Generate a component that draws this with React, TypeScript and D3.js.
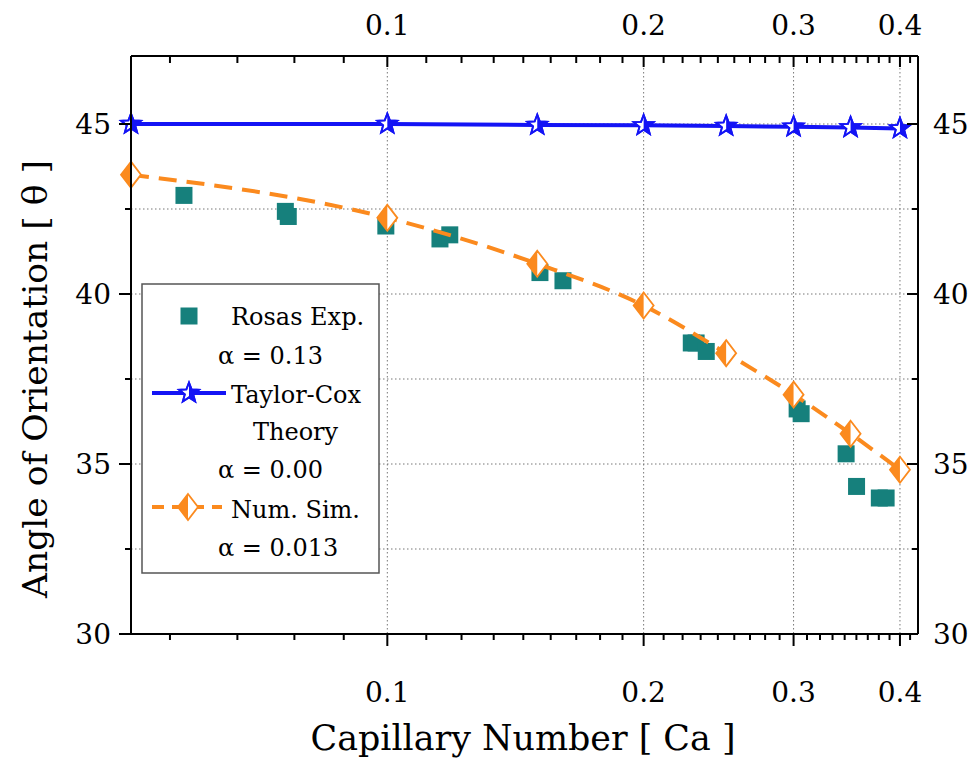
import React from "react";
import * as d3 from "d3";

const rosasCa = [0.0577, 0.0759, 0.0765, 0.0996, 0.1153, 0.1184, 0.1511, 0.1608, 0.2275, 0.2305, 0.2369, 0.3029, 0.3062, 0.3458, 0.3557, 0.3783, 0.3853];
const rosasAngle = [42.9, 42.43, 42.28, 42.0, 41.62, 41.74, 40.63, 40.39, 38.56, 38.56, 38.31, 36.62, 36.48, 35.3, 34.34, 34.0, 34.0];

const taylorCa = [0.05, 0.1, 0.15, 0.2, 0.25, 0.3, 0.35, 0.4];
const taylorAngle = [45.0, 45.0, 44.97, 44.96, 44.94, 44.92, 44.9, 44.87];

const simCa = [0.05, 0.1, 0.15, 0.2, 0.25, 0.3, 0.35, 0.4];
const simAngle = [43.51, 42.24, 40.89, 39.66, 38.26, 37.04, 35.89, 34.83];

const xMajorTicks = [0.1, 0.2, 0.3, 0.4];
const xTickLabels = ["0.1", "0.2", "0.3", "0.4"];
const yMajorTicks = [30, 35, 40, 45];
const yMinorTicks = [32.5, 37.5, 42.5];
const yTickLabels = ["30", "35", "40", "45"];

const legendLabels = ["Rosas Exp.", "α = 0.13", "Taylor-Cox", "Theory", "α = 0.00", "Num. Sim.", "α = 0.013"];

const BLUE = "#1414f5";
const ORANGE = "#fb8a1e";
const TEAL = "#16807c";
const SERIF = "'DejaVu Serif', 'Liberation Serif', serif";

function starPath(r: number) {
  const pts: [number, number][] = [];
  for (let i = 0; i < 10; i++) {
    const rr = i % 2 === 0 ? r : r * 0.42;
    const a = -Math.PI / 2 + (i * Math.PI) / 5;
    pts.push([rr * Math.cos(a), rr * Math.sin(a)]);
  }
  return "M" + pts.map((p) => p.join(",")).join("L") + "Z";
}

function Star({ x, y }: { x: number; y: number }) {
  const d = starPath(10.5);
  return (
    <g transform={`translate(${x},${y})`}>
      <path d={d} fill="white" stroke={BLUE} strokeWidth={1.8} />
      <path d={d} fill={BLUE} clipPath="url(#rightHalf)" />
      <path d={d} fill="none" stroke={BLUE} strokeWidth={1.8} />
    </g>
  );
}

function Diamond({ x, y }: { x: number; y: number }) {
  const w = 10, h = 13;
  return (
    <g transform={`translate(${x},${y})`}>
      <path d={`M0,${-h}L${w},0L0,${h}L${-w},0Z`} fill="white" stroke={ORANGE} strokeWidth={1.8} />
      <path d={`M0,${-h}L0,${h}L${-w},0Z`} fill={ORANGE} />
    </g>
  );
}

export default function App() {
  const W = 974, H = 762;
  const x = d3.scaleLog().domain([0.05, 0.42]).range([131, 918]);
  const y = d3.scaleLinear().domain([30, 47]).range([634, 56]);
  const [x0, x1] = x.range();
  const [y0, y1] = y.range();

  const minorX = d3.range(5, 38).filter((k) => k % 9 !== 0).map((k) => k / 90);

  const taylorLine = d3.line<number>().x((_, i) => x(taylorCa[i])).y((d) => y(d));
  const simLine = d3.line<number>().x((_, i) => x(simCa[i])).y((d) => y(d)).curve(d3.curveMonotoneX);

  const gridY = [...yMinorTicks, ...yMajorTicks].filter((v) => v > 30);

  const sq = 17;

  return (
    <svg width={W} height={H} style={{ position: "absolute", left: 0, top: 0, background: "white" }}>
      <defs>
        <clipPath id="rightHalf">
          <rect x={0} y={-20} width={20} height={40} />
        </clipPath>
      </defs>
      <rect width={W} height={H} fill="white" />

      {/* grid */}
      <g stroke="#777" strokeWidth={1} strokeDasharray="1.5 2.5">
        {xMajorTicks.map((t) => (
          <line key={"gx" + t} x1={x(t)} x2={x(t)} y1={y1} y2={y0} />
        ))}
        {gridY.map((t) => (
          <line key={"gy" + t} x1={x0} x2={x1} y1={y(t)} y2={y(t)} />
        ))}
      </g>

      {/* Rosas squares */}
      <g fill={TEAL}>
        {rosasCa.map((c, i) => (
          <rect key={"r" + i} x={x(c) - sq / 2} y={y(rosasAngle[i]) - sq / 2} width={sq} height={sq} />
        ))}
      </g>

      {/* Taylor-Cox */}
      <path d={taylorLine(taylorAngle) || ""} fill="none" stroke={BLUE} strokeWidth={4} />
      {taylorCa.map((c, i) => (
        <Star key={"s" + i} x={x(c)} y={y(taylorAngle[i])} />
      ))}

      {/* Num. Sim. */}
      <path d={simLine(simAngle) || ""} fill="none" stroke={ORANGE} strokeWidth={4} strokeDasharray="18 10" />
      {simCa.map((c, i) => (
        <Diamond key={"d" + i} x={x(c)} y={y(simAngle[i])} />
      ))}

      {/* axes frame */}
      <g stroke="black" strokeWidth={2} fill="none">
        <line x1={x0} x2={x1} y1={y0} y2={y0} />
        <line x1={x0} x2={x1} y1={y1} y2={y1} />
        <line x1={x0} x2={x0} y1={y1} y2={y0} />
        <line x1={x1} x2={x1} y1={y1} y2={y0} />
        {xMajorTicks.map((t) => (
          <g key={"xm" + t}>
            <line x1={x(t)} x2={x(t)} y1={y0} y2={y0 + 12} />
            <line x1={x(t)} x2={x(t)} y1={y1} y2={y1 + 11} />
          </g>
        ))}
        {minorX.map((t) => (
          <g key={"xn" + t}>
            <line x1={x(t)} x2={x(t)} y1={y0} y2={y0 + 6} />
            <line x1={x(t)} x2={x(t)} y1={y1} y2={y1 + 7} />
          </g>
        ))}
        {yMajorTicks.map((t) => (
          <g key={"ym" + t}>
            <line x1={x0 - 12} x2={x0} y1={y(t)} y2={y(t)} />
            <line x1={x1 - 11} x2={x1} y1={y(t)} y2={y(t)} />
          </g>
        ))}
        {yMinorTicks.map((t) => (
          <g key={"yn" + t}>
            <line x1={x0 - 6} x2={x0} y1={y(t)} y2={y(t)} />
            <line x1={x1 - 6} x2={x1} y1={y(t)} y2={y(t)} />
          </g>
        ))}
      </g>

      {/* tick labels */}
      <g fontFamily={SERIF} fontSize={28} fill="black">
        {xMajorTicks.map((t, i) => (
          <g key={"xl" + t}>
            <text x={x(t)} y={y0 + 68} textAnchor="middle">{xTickLabels[i]}</text>
            <text x={x(t)} y={35} textAnchor="middle">{xTickLabels[i]}</text>
          </g>
        ))}
        {yMajorTicks.map((t, i) => (
          <g key={"yl" + t}>
            <text x={x0 - 20} y={y(t) + 10} textAnchor="end">{yTickLabels[i]}</text>
            <text x={x1 + 15} y={y(t) + 10} textAnchor="start">{yTickLabels[i]}</text>
          </g>
        ))}
      </g>

      {/* axis titles */}
      <text x={523} y={750} textAnchor="middle" fontFamily={SERIF} fontSize={36} textLength={425} lengthAdjust="spacingAndGlyphs">
        Capillary Number [ Ca ]
      </text>
      <text transform="translate(47,379) rotate(-90)" textAnchor="middle" fontFamily={SERIF} fontSize={34} textLength={438} lengthAdjust="spacingAndGlyphs">
        Angle of Orientation [ θ ]
      </text>

      {/* legend */}
      <g>
        <rect x={142} y={284} width={237} height={289} fill="white" stroke="#555" strokeWidth={1.5} />
        <rect x={189 - 8.5} y={316 - 8.5} width={17} height={17} fill={TEAL} />
        <line x1={152} x2={226} y1={393} y2={393} stroke={BLUE} strokeWidth={4} />
        <Star x={189} y={393} />
        <line x1={152} x2={222} y1={507} y2={507} stroke={ORANGE} strokeWidth={4} strokeDasharray="12 8" />
        <Diamond x={188} y={507} />
        <g fontFamily={SERIF} fontSize={24} fill="black">
          <text x={231} y={325}>{legendLabels[0]}</text>
          <text x={218} y={364}>{legendLabels[1]}</text>
          <text x={231} y={403}>{legendLabels[2]}</text>
          <text x={253} y={440}>{legendLabels[3]}</text>
          <text x={218} y={478}>{legendLabels[4]}</text>
          <text x={231} y={518}>{legendLabels[5]}</text>
          <text x={218} y={556}>{legendLabels[6]}</text>
        </g>
      </g>
    </svg>
  );
}
